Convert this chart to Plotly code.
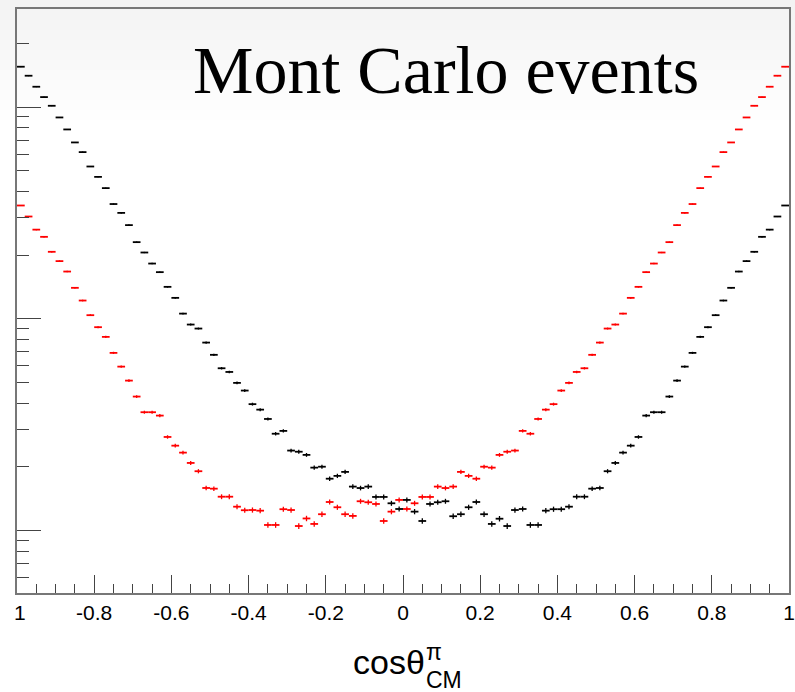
import numpy as np
import plotly.graph_objects as go

# Histogram binning: 100 bins of cos(theta) from -1 to 1
bin_low = -1.0
bin_width = 0.02
n_bins = 100
bin_centers = [round(bin_low + bin_width * (i + 0.5), 3) for i in range(n_bins)]

# Event counts per bin (black sample)
counts_black = [
    155400, 140900, 125000, 111700, 101600, 89500, 78550, 68200, 61400, 52500,
    46900, 41500, 34900, 31700, 27750, 23060, 20600, 18270, 16640, 14180,
    12580, 10600, 9410, 9010, 7735, 6770, 5850, 5620, 4990, 4590,
    3960, 3730, 3370, 2870, 2960, 2390, 2360, 2280, 1985, 2005,
    1760, 1815, 1895, 1615, 1590, 1615, 1443, 1443, 1347, 1266,
    1397, 1230, 1111, 1337, 1362, 1377, 1170, 1196, 1290, 1366,
    1196, 1076, 1139, 1052, 1252, 1266, 1064, 1064, 1243, 1263,
    1263, 1298, 1447, 1447, 1579, 1591, 1909, 2089, 2337, 2521,
    2771, 3496, 3627, 3627, 4300, 5115, 5955, 6915, 8230, 9145,
    10420, 12220, 14030, 16750, 18760, 20760, 24430, 26420, 30470, 34350,
]

# Event counts per bin (red sample)
counts_red = [
    34350, 30470, 26420, 24430, 20760, 18760, 16750, 14030, 12220, 10420,
    9145, 8230, 6915, 5955, 5115, 4300, 3627, 3627, 3496, 2771,
    2521, 2337, 2089, 1909, 1591, 1579, 1447, 1447, 1298, 1249,
    1252, 1243, 1064, 1064, 1263, 1252, 1052, 1142, 1076, 1196,
    1366, 1290, 1196, 1174, 1377, 1362, 1337, 1111, 1230, 1397,
    1266, 1347, 1443, 1443, 1615, 1590, 1615, 1895, 1815, 1760,
    2005, 1985, 2280, 2360, 2390, 2960, 2870, 3370, 3730, 3960,
    4590, 4990, 5620, 5850, 6770, 7735, 9010, 9410, 10600, 12580,
    14180, 16640, 18270, 20600, 23060, 27750, 31700, 34900, 41500, 46900,
    52500, 61400, 68200, 78550, 89500, 101600, 111700, 125000, 140900, 155400,
]

x_tick_vals = [-1.0, -0.8, -0.6, -0.4, -0.2, 0.0, 0.2, 0.4, 0.6, 0.8, 1.0]
x_tick_text = ["\u00a01", "-0.8", "-0.6", "-0.4", "-0.2", "0", "0.2", "0.4", "0.6", "0.8", "1"]

y_major = [1e3, 1e4, 1e5]
y_minor = [m * d for d in (1e2, 1e3, 1e4, 1e5) for m in range(2, 10)]

title_text = "Mont Carlo events"

W, H = 795, 692
ML, MR, MT, MB = 17, 6, 9, 99
PW, PH = W - ML - MR, H - MT - MB


def px_x(p):
    return (p - ML) / PW


def px_y(p):
    return (H - MB - p) / PH


def hist_trace(counts, color):
    return go.Scatter(
        x=bin_centers,
        y=counts,
        mode="markers",
        marker=dict(size=1, color=color),
        error_x=dict(type="constant", value=bin_width / 2, width=0,
                     thickness=1.8, color=color),
        error_y=dict(type="data", array=np.sqrt(np.array(counts, dtype=float)),
                     width=0, thickness=1.3, color=color),
        showlegend=False,
        hoverinfo="x+y",
    )


fig = go.Figure()
fig.add_trace(hist_trace(counts_red, "#ff0000"))
fig.add_trace(hist_trace(counts_black, "#000000"))

# Soft grey shading along the top edge of the canvas
shapes = []
for k in range(1, 13):
    shapes.append(dict(
        type="rect", xref="paper", yref="paper", layer="below",
        x0=px_x(0), x1=px_x(W), y0=px_y(10 * k), y1=px_y(0),
        fillcolor="rgba(0,0,0,0.0045)", line=dict(width=0),
    ))

annotations = [
    dict(text=title_text, xref="paper", yref="paper",
         x=px_x(446), y=px_y(70), xanchor="center", yanchor="middle",
         showarrow=False,
         font=dict(family="Liberation Serif", size=68, color="#000000")),
    dict(text="cos\u03b8", xref="paper", yref="paper",
         x=px_x(351), y=px_y(662), xanchor="left", yanchor="middle",
         showarrow=False,
         font=dict(family="Liberation Sans", size=34, color="#000000")),
    dict(text="\u03c0", xref="paper", yref="paper",
         x=px_x(424), y=px_y(652), xanchor="left", yanchor="middle",
         showarrow=False,
         font=dict(family="Liberation Sans", size=23, color="#000000")),
    dict(text="CM", xref="paper", yref="paper",
         x=px_x(424), y=px_y(680), xanchor="left", yanchor="middle",
         showarrow=False,
         font=dict(family="Liberation Sans", size=23, color="#000000")),
]

fig.update_layout(
    width=W, height=H,
    margin=dict(l=ML, r=MR, t=MT, b=MB, pad=0, autoexpand=False),
    paper_bgcolor="#ffffff",
    plot_bgcolor="rgba(0,0,0,0)",
    shapes=shapes,
    annotations=annotations,
    showlegend=False,
    xaxis=dict(
        range=[-1, 1], automargin=False,
        tickmode="array", tickvals=x_tick_vals, ticktext=x_tick_text,
        ticklabeloverflow="allow",
        ticks="inside", ticklen=18, tickwidth=1.2, tickcolor="#444444",
        minor=dict(dtick=0.05, tick0=0, ticks="inside", ticklen=9,
                   tickwidth=1.2, tickcolor="#444444"),
        showline=True, linecolor="#777777", linewidth=2, mirror=True,
        showgrid=False, zeroline=False,
        tickfont=dict(family="Liberation Sans", size=21, color="#000000"),
    ),
    yaxis=dict(
        type="log", automargin=False,
        range=[2.7056, 5.4641],
        tickmode="array", tickvals=y_major,
        ticks="inside", ticklen=24, tickwidth=1.2, tickcolor="#444444",
        minor=dict(tickmode="array", tickvals=y_minor, ticks="inside",
                   ticklen=12, tickwidth=1.2, tickcolor="#444444"),
        showticklabels=False,
        showline=True, linecolor="#777777", linewidth=2, mirror=True,
        showgrid=False, zeroline=False,
    ),
)

fig.write_html("out.html")
